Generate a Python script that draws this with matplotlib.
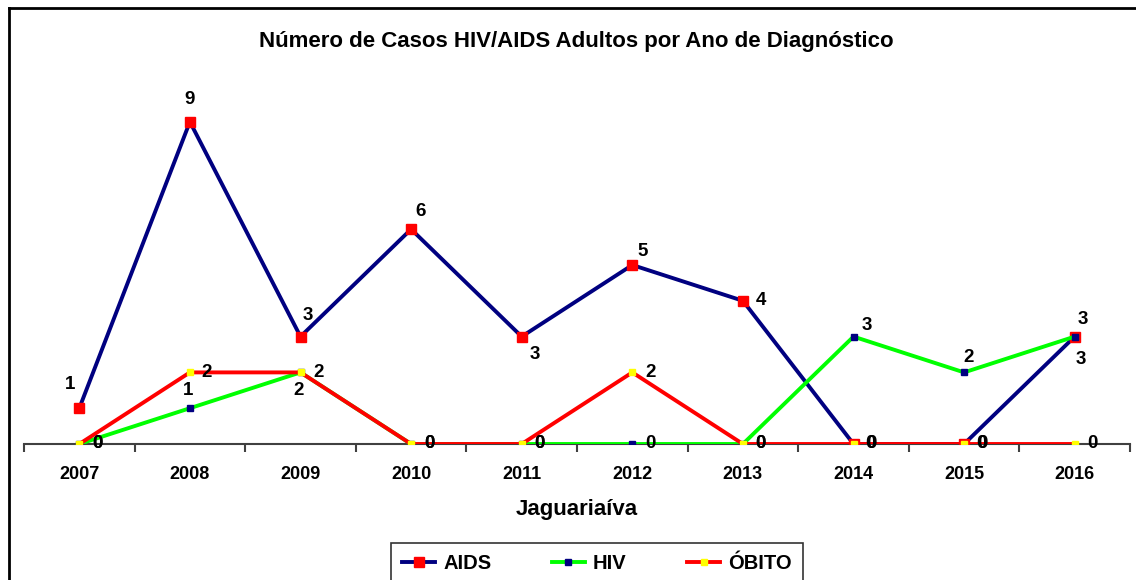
import matplotlib
matplotlib.use('Agg')
from matplotlib import pyplot as plt
from matplotlib.lines import Line2D

# data
anos = ['2007', '2008', '2009', '2010', '2011', '2012', '2013', '2014', '2015', '2016']
aids = [1, 9, 3, 6, 3, 5, 4, 0, 0, 3]
hiv = [0, 1, 2, 0, 0, 0, 0, 3, 2, 3]
obito = [0, 2, 2, 0, 0, 2, 0, 0, 0, 0]

# label offsets in pixels (dx, dy) for each point
off_aids = [(-9, 24), (0, 22), (7, 21), (9, 18), (13, -18), (10, 14), (18, 0), (17, 0), (17, 0), (8, 17)]
off_hiv = [(18, 0), (-2, 18), (-2, -18), (18, 0), (18, 0), (18, 0), (18, 0), (13, 11), (4, 15), (6, -23)]
off_obito = [(18, 0), (17, 0), (18, 0), (18, 0), (18, 0), (18, 0), (18, 0), (18, 0), (18, 0), (18, 0)]

plt.rcParams['font.family'] = ['Liberation Sans', 'DejaVu Sans']
plt.rcParams['font.weight'] = 'bold'

fig = plt.figure(figsize=(11.36, 5.8), dpi=100)
ax = fig.add_axes([24 / 1136, 1 - 444 / 580, (1130 - 24) / 1136, (444 - 86) / 580])

x = list(range(len(anos)))
ax.plot(x, aids, color='#000080', lw=2.8, marker='s', ms=7.5, mfc='red', mec='red', label='AIDS', zorder=3)
ax.plot(x, hiv, color='#00ff00', lw=2.8, marker='s', ms=3.8, mfc='#000080', mec='#000080', label='HIV', zorder=4)
ax.plot(x, obito, color='red', lw=2.8, marker='s', ms=3.8, mfc='yellow', mec='yellow', label='ÓBITO', zorder=5)

for serie, offs in [(aids, off_aids), (hiv, off_hiv), (obito, off_obito)]:
    for i, v in enumerate(serie):
        ax.annotate(str(v), (i, v), xytext=offs[i], textcoords='offset pixels',
                    ha='center', va='center', fontsize=13.5, fontweight='bold', zorder=6)

ax.set_xlim(-0.5, len(anos) - 0.5)
ax.set_ylim(0, 10)
ax.set_yticks([])
for s in ['top', 'right', 'left']:
    ax.spines[s].set_visible(False)
ax.spines['bottom'].set_color('#404040')
ax.spines['bottom'].set_linewidth(1.5)
ax.spines['bottom'].set_zorder(1)
ax.set_xticks([i - 0.5 for i in range(len(anos) + 1)])
ax.set_xticklabels([])
ax.set_xticks(x, minor=True)
ax.set_xticklabels(anos, minor=True, fontsize=13, fontweight='bold')
ax.tick_params(axis='x', which='major', length=6, width=1.5, color='#404040', direction='out')
ax.tick_params(axis='x', which='minor', length=0, pad=16)
ax.patch.set_visible(False)

fig.text(0.5 * (258 + 895) / 1136, 1 - 41 / 580, 'Número de Casos HIV/AIDS Adultos por Ano de Diagnóstico',
         ha='center', va='center', fontsize=16, fontweight='bold')
fig.text(577 / 1136, 1 - 509 / 580, 'Jaguariaíva', ha='center', va='center', fontsize=16, fontweight='bold')

# outer border
fig.add_artist(Line2D([9 / 1136, 9 / 1136], [0, 1 - 8 / 580], transform=fig.transFigure, color='black', lw=2))
fig.add_artist(Line2D([9 / 1136, 1], [1 - 8 / 580, 1 - 8 / 580], transform=fig.transFigure, color='black', lw=2))

leg = fig.legend(loc='upper center', bbox_to_anchor=(597 / 1136, 1 - 543 / 580), ncol=3, fontsize=14.5,
                 frameon=True, fancybox=False, edgecolor='black', handlelength=1.65, columnspacing=3.0,
                 handletextpad=0.4, borderpad=0.55, borderaxespad=0)
leg.get_frame().set_linewidth(1.2)
for t in leg.get_texts():
    t.set_fontweight('bold')

fig.savefig('out.png', dpi=100)
